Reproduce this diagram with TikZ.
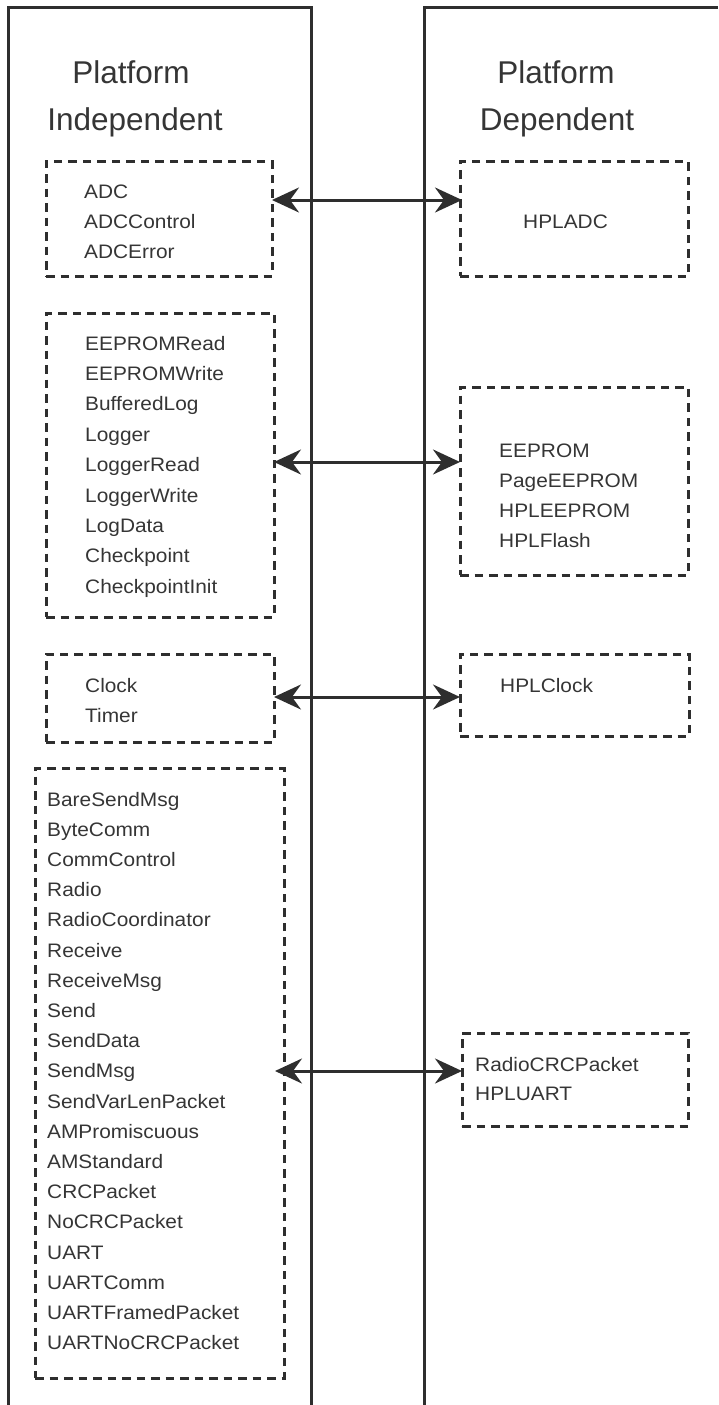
\documentclass[tikz,border=0pt]{standalone}
\usepackage{fontspec}
\setmainfont{Liberation Sans}
\newfontfamily\itemfont{Liberation Sans}[FakeStretch=1.07]
\usetikzlibrary{arrows.meta,calc}
\definecolor{ink}{HTML}{2E2E2E}
\definecolor{txt}{HTML}{353535}

\begin{document}
\begin{tikzpicture}[x=1pt,y=-1pt,
  column/.style={draw=ink, line width=3pt},
  dbox/.style={draw=ink, line width=3pt, dash pattern=on 8.5pt off 6pt,
    anchor=north west, inner sep=0pt, outer sep=0pt},
  title/.style={font=\fontsize{31.5}{36}\selectfont, text=txt, anchor=base, inner sep=0pt},
  item/.style={font=\itemfont\fontsize{19.5}{24}\selectfont, text=txt, anchor=base west, inner sep=0pt},
  link/.style={draw=ink, line width=3pt,
    {Stealth[length=27pt,width=25pt,inset=9pt]}-{Stealth[length=27pt,width=25pt,inset=9pt]}}
]
\useasboundingbox (0,0) rectangle (718,1405);

% the two columns
\draw[column] (8,1405) -- (8,8) -- (311,8) -- (311,1405);
\draw[column] (424,1405) -- (424,8) -- (718,8);

% column headings
\node[title] (t1a) at (131,83) {Platform};
\node[title] (t1b) at (135,130) {Independent};
\node[title] (t2a) at (556,83) {Platform};
\node[title] (t2b) at (557,130) {Dependent};

% interface groups
\node[dbox, minimum width=226pt, minimum height=115pt] (adc) at (46,161) {};
\node[dbox, minimum width=228pt, minimum height=115pt] (hpladc) at (460,161) {};
\node[dbox, minimum width=228pt, minimum height=304pt] (eepl) at (46,313) {};
\node[dbox, minimum width=228pt, minimum height=188pt] (eepr) at (460,387) {};
\node[dbox, minimum width=228pt, minimum height=88pt] (clkl) at (46,654) {};
\node[dbox, minimum width=229pt, minimum height=82pt] (clkr) at (460,654) {};
\node[dbox, minimum width=249pt, minimum height=610pt] (comm) at (35,768) {};
\node[dbox, minimum width=226pt, minimum height=93pt] (uart) at (462,1033) {};

% group contents
\foreach \t [count=\i] in {ADC,ADCControl,ADCError}
  \node[item] (adc-\i) at (84,{198+30*(\i-1)}) {\t};
\node[item] (hpladc-1) at (523,228) {HPLADC};
\foreach \t [count=\i] in {EEPROMRead,EEPROMWrite,BufferedLog,Logger,LoggerRead,
    LoggerWrite,LogData,Checkpoint,CheckpointInit}
  \node[item] (eepl-\i) at (85,{350+30.4*(\i-1)}) {\t};
\foreach \t [count=\i] in {EEPROM,PageEEPROM,HPLEEPROM,HPLFlash}
  \node[item] (eepr-\i) at (499,{457+30*(\i-1)}) {\t};
\foreach \t [count=\i] in {Clock,Timer}
  \node[item] (clkl-\i) at (85,{692+30*(\i-1)}) {\t};
\node[item] (clkr-1) at (500,692) {HPLClock};
\foreach \t [count=\i] in {BareSendMsg,ByteComm,CommControl,Radio,RadioCoordinator,
    Receive,ReceiveMsg,Send,SendData,SendMsg,SendVarLenPacket,AMPromiscuous,
    AMStandard,CRCPacket,NoCRCPacket,UART,UARTComm,UARTFramedPacket,UARTNoCRCPacket}
  \node[item] (comm-\i) at (47,{806+30.2*(\i-1)}) {\t};
\foreach \t [count=\i] in {RadioCRCPacket,HPLUART}
  \node[item] (uart-\i) at (475,{1071+29*(\i-1)}) {\t};

% links between the two sides
\coordinate (y1) at (0,200);
\coordinate (y2) at (0,462);
\coordinate (y3) at (0,697);
\coordinate (y4) at (0,1071);
\draw[link] (adc.east |- y1) -- ($(hpladc.west |- y1)+(2,0)$);
\draw[link] (eepl.east |- y2) -- (eepr.west |- y2);
\draw[link] (clkl.east |- y3) -- (clkr.west |- y3);
\draw[link] ($(comm.east |- y4)+(-9,0)$) -- (uart.west |- y4);
\end{tikzpicture}
\end{document}
